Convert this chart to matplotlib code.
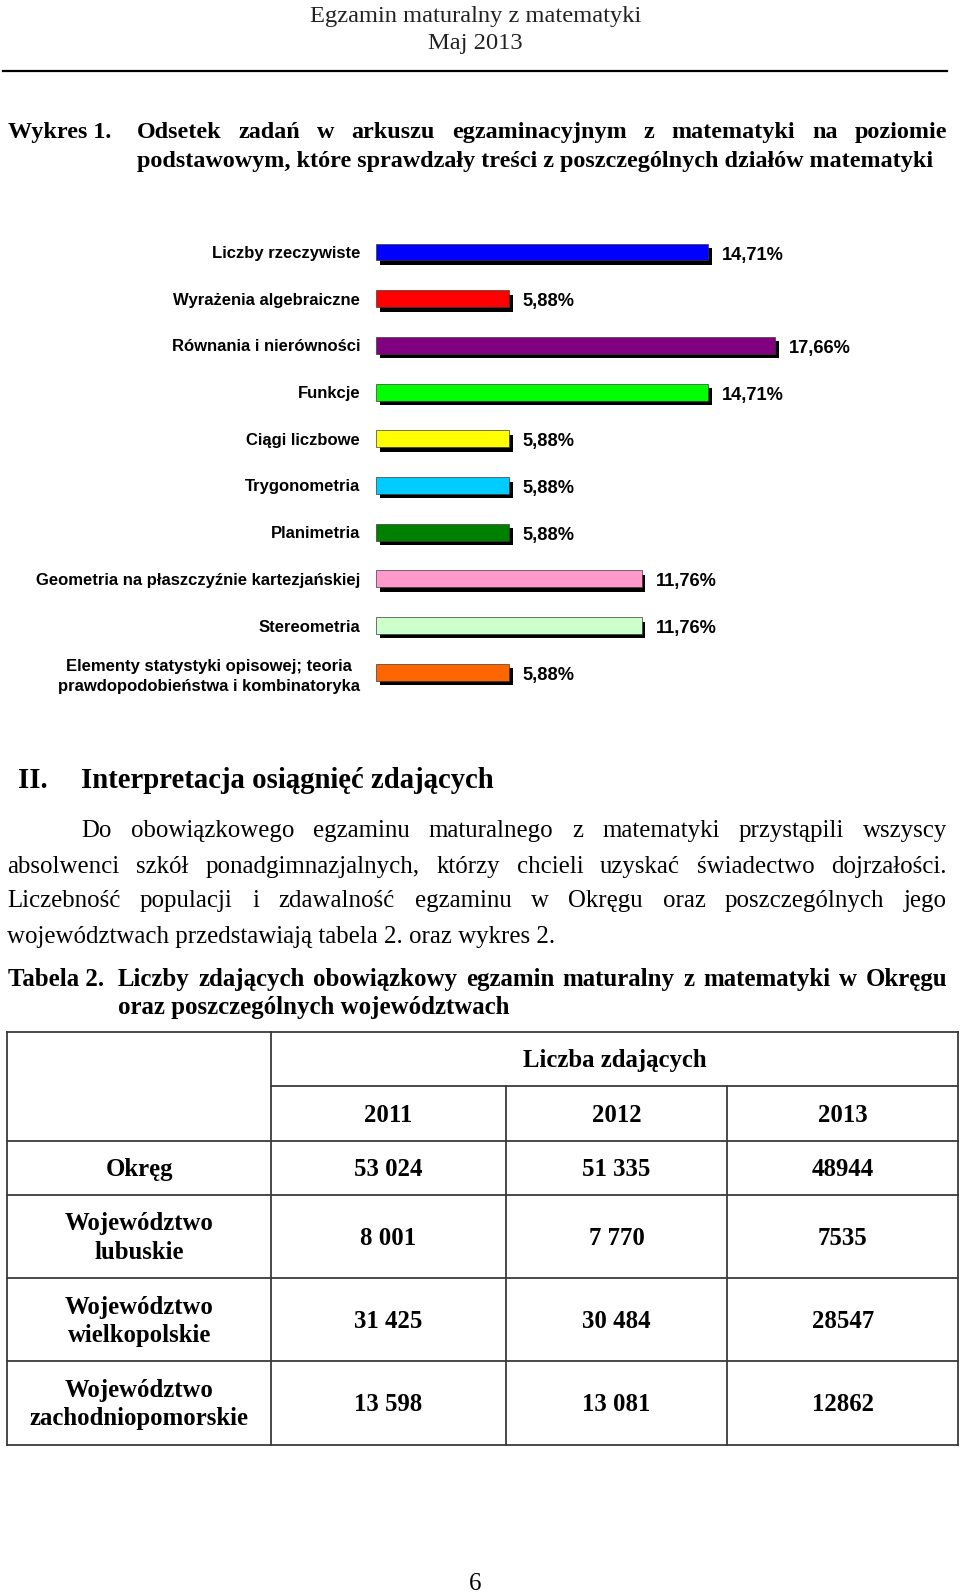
import matplotlib
matplotlib.use('Agg')
import matplotlib.pyplot as plt
import matplotlib.patheffects as pe
import numpy as np

# ---------------- data ----------------
categories = [
    'Liczby rzeczywiste',
    'Wyrażenia algebraiczne',
    'Równania i nierówności',
    'Funkcje',
    'Ciągi liczbowe',
    'Trygonometria',
    'Planimetria',
    'Geometria na płaszczyźnie kartezjańskiej',
    'Stereometria',
    'Elementy statystyki opisowej; teoria\nprawdopodobieństwa i kombinatoryka',
]
values = [14.71, 5.88, 17.66, 14.71, 5.88, 5.88, 5.88, 11.76, 11.76, 5.88]
bar_colors = ['#0000FF', '#FF0000', '#800080', '#00FF00', '#FFFF00',
              '#00CCFF', '#008000', '#FF99CC', '#CCFFCC', '#FF6600']

years = ['2011', '2012', '2013']
regions = ['Okręg', 'Województwo\nlubuskie', 'Województwo\nwielkopolskie',
           'Województwo\nzachodniopomorskie']
counts_2011 = [53024, 8001, 31425, 13598]
counts_2012 = [51335, 7770, 30484, 13081]
counts_2013 = [48944, 7535, 28547, 12862]

header_lines = ['Egzamin maturalny z matematyki', 'Maj 2013']
title_label = 'Wykres 1.'
title_lines = ['Odsetek zadań w arkuszu egzaminacyjnym z matematyki na poziomie',
               'podstawowym, które sprawdzały treści z poszczególnych działów matematyki']
section_num = 'II.'
section_title = 'Interpretacja osiągnięć zdających'
para_lines = [
    'Do obowiązkowego egzaminu maturalnego z matematyki przystąpili wszyscy',
    'absolwenci szkół ponadgimnazjalnych, którzy chcieli uzyskać świadectwo dojrzałości.',
    'Liczebność populacji i zdawalność egzaminu w Okręgu oraz poszczególnych jego',
    'województwach przedstawiają tabela 2. oraz wykres 2.',
]
table_label = 'Tabela 2.'
table_title = ['Liczby zdających obowiązkowy egzamin maturalny z matematyki w Okręgu',
               'oraz poszczególnych województwach']
table_head = 'Liczba zdających'
page_number = '6'

# ---------------- page ----------------
W, H = 960, 1593
SERIF = 'Liberation Serif'
SANS = 'Liberation Sans'
DY = 2.5  # visual centre correction for serif text

fig = plt.figure(figsize=(W / 100, H / 100), dpi=100)
fig.patch.set_facecolor('white')
page = fig.add_axes([0, 0, 1, 1])
page.set_xlim(0, W)
page.set_ylim(H, 0)
page.axis('off')
renderer = fig.canvas.get_renderer()


def text_width(s, size, **kw):
    t = page.text(0, 0, s, fontsize=size, **kw)
    w = t.get_window_extent(renderer).width
    t.remove()
    return w


def fit_size(s, target, **kw):
    return 20 * target / text_width(s, 20, **kw)


def put(x, y, s, size, ha='left', **kw):
    base = y + DY + 0.233 * size * 100 / 72
    page.text(x, base, s, fontsize=size, ha=ha, va='baseline', **kw)


def justify(line, x0, x1, y, size, **kw):
    words = line.split(' ')
    widths = [text_width(w, size, **kw) for w in words]
    gap = (x1 - x0 - sum(widths)) / (len(words) - 1)
    x = x0
    for w, wd in zip(words, widths):
        put(x, y, w, size, **kw)
        x += wd + gap


# header
hs = fit_size(header_lines[0], 332, family=SERIF)
put(475.5, 13.5, header_lines[0], hs, ha='center', family=SERIF, color='#222222')
put(475.5, 41, header_lines[1], hs, ha='center', family=SERIF, color='#222222')
page.plot([3, 947], [71, 71], color='black', lw=1.6)

# chart title
bold_serif = dict(family=SERIF, weight='bold')
ts = fit_size(title_lines[1], 794, **bold_serif)
put(8, 130, title_label, ts, **bold_serif)
justify(title_lines[0], 137, 947, 130, ts, **bold_serif)
put(137, 158.5, title_lines[1], ts, **bold_serif)

# ---------------- bar chart ----------------
px_per_pct = 22.58
x_left = 376
row_h = 46.7
row0 = 252
n = len(values)
top_px = row0 - row_h / 2
xmax = 25
ax = fig.add_axes([x_left / W, 1 - (top_px + n * row_h) / H,
                   xmax * px_per_pct / W, n * row_h / H])
ypos = np.arange(n)
bars = ax.barh(ypos, values, height=0.36, color=bar_colors,
               edgecolor='#3a3a3a', linewidth=0.5)
for b in bars:
    b.set_path_effects([pe.SimplePatchShadow(offset=(2.7, -3.2),
                                             shadow_rgbFace='black', alpha=1.0),
                        pe.Normal()])
ax.set_xlim(0, xmax)
ax.set_ylim(n - 0.5, -0.5)
ax.set_xticks([])
for s in ax.spines.values():
    s.set_visible(False)
ls = fit_size('Liczby rzeczywiste', 149, family=SANS, weight='bold')
ax.set_yticks(ypos)
ax.set_yticklabels(categories, fontsize=ls, family=SANS, weight='bold',
                   multialignment='center', linespacing=1.45)
ax.tick_params(axis='y', length=0, pad=11.5)
vs = fit_size('14,71%', 62, family=SANS, weight='bold')
for i, v in enumerate(values):
    ax.annotate(f'{v:.2f}%'.replace('.', ','), (v, i), xytext=(10, -2.2),
                textcoords='offset points', ha='left', va='center',
                fontsize=vs, family=SANS, weight='bold')

# ---------------- section II ----------------
ss = fit_size(section_title, 414, **bold_serif)
put(18.3, 779, section_num, ss, **bold_serif)
put(81.3, 779, section_title, ss, **bold_serif)

ps = fit_size(para_lines[3], 547, family=SERIF)
para_y = [829, 864.5, 899.1, 934.6]
justify(para_lines[0], 81.3, 947, para_y[0], ps, family=SERIF)
justify(para_lines[1], 7.1, 947, para_y[1], ps, family=SERIF)
justify(para_lines[2], 7.1, 947, para_y[2], ps, family=SERIF)
put(7.1, para_y[3], para_lines[3], ps, family=SERIF)

tbs = fit_size(table_title[1], 390, **bold_serif)
put(8, 977.3, table_label, tbs, **bold_serif)
justify(table_title[0], 117.8, 947, 977.3, tbs, **bold_serif)
put(117.8, 1005.8, table_title[1], tbs, **bold_serif)

# ---------------- table ----------------
xs = [7.1, 271.2, 505.9, 727.4, 958]
ys = [1032.2, 1086, 1140.9, 1194.7, 1278, 1361.3, 1444.6]
lc = dict(color='#3a3a3a', lw=1.3, solid_capstyle='projecting')
page.plot([xs[0], xs[-1]], [ys[0], ys[0]], **lc)
page.plot([xs[1], xs[-1]], [ys[1], ys[1]], **lc)
for yy in ys[2:]:
    page.plot([xs[0], xs[-1]], [yy, yy], **lc)
for xx in (xs[0], xs[1], xs[-1]):
    page.plot([xx, xx], [ys[0], ys[-1]], **lc)
for xx in xs[2:4]:
    page.plot([xx, xx], [ys[1], ys[-1]], **lc)

cs = fit_size('zachodniopomorskie', 218, **bold_serif)
put((xs[1] + xs[-1]) / 2, (ys[0] + ys[1]) / 2, table_head, cs, ha='center',
    **bold_serif)
for j, yr in enumerate(years):
    put((xs[j + 1] + xs[j + 2]) / 2, (ys[1] + ys[2]) / 2, yr, cs, ha='center',
        **bold_serif)


def fmt_space(nv):
    return f'{nv:,}'.replace(',', ' ')


cols = [[fmt_space(v) for v in counts_2011],
        [fmt_space(v) for v in counts_2012],
        [str(v) for v in counts_2013]]
line_gap = 28.4
for r, reg in enumerate(regions):
    yc = (ys[r + 2] + ys[r + 3]) / 2
    parts = reg.split('\n')
    off0 = -(len(parts) - 1) * line_gap / 2
    for k, p in enumerate(parts):
        put((xs[0] + xs[1]) / 2, yc + off0 + k * line_gap, p, cs, ha='center',
            **bold_serif)
    for j in range(3):
        put((xs[j + 1] + xs[j + 2]) / 2, yc, cols[j][r], cs, ha='center',
            **bold_serif)

put(475.5, 1582, page_number, ps, ha='center', family=SERIF)

fig.savefig('out.png', dpi=100, facecolor='white')
